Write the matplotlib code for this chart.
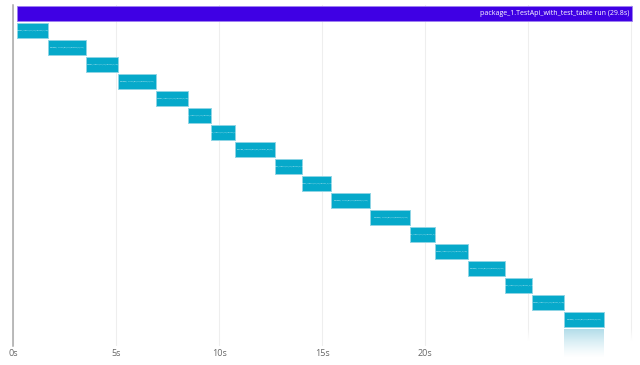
import numpy as np
import matplotlib
matplotlib.use("Agg")
import matplotlib.pyplot as plt

# ---- data ----
run_label = "package_1.TestApi_with_test_table run (29.8s)"
run_start = 0.19
run_end = 30.05

test_starts = [0.19, 1.67, 3.53, 5.07, 6.94, 8.48, 9.62, 10.74, 12.71,
               14.01, 15.41, 17.33, 19.27, 20.49, 22.05, 23.88, 25.19, 26.75]
test_durations = [1.48, 1.86, 1.54, 1.87, 1.54, 1.14, 1.12, 1.97, 1.30,
                  1.40, 1.92, 1.94, 1.22, 1.56, 1.83, 1.31, 1.56, 1.91]
test_names = ["package_1.TestApi_with_test_table.test_%02d" % (i + 1) for i in range(len(test_starts))]
test_labels = ["%s (%.1fs)" % (n, d) for n, d in zip(test_names, test_durations)]

tick_values = [0, 5, 10, 15, 20, 25, 30]
tick_labels = ["0s", "5s", "10s", "15s", "20s", "", ""]

# ---- figure ----
W, H = 640, 365
fig = plt.figure(figsize=(W / 100, H / 100), dpi=100)
px_per_s = 20.6
x0_px = 13.3
xmax = 30.2
ax_w = xmax * px_per_s
top_px, bot_px = 5, 346
ax = fig.add_axes([x0_px / W, (H - bot_px) / H, ax_w / W, (bot_px - top_px) / H])

row_px = 17.0
row0_center = 13.3
ymin = (top_px - row0_center) / row_px
ymax = (bot_px - row0_center) / row_px
ax.set_xlim(0, xmax)
ax.set_ylim(ymax, ymin)

for s in ["top", "right", "bottom"]:
    ax.spines[s].set_visible(False)
ax.spines["left"].set_color("#a8a8a8")
ax.spines["left"].set_linewidth(1.1)
ax.set_yticks([])
ax.set_xticks(tick_values)
ax.set_xticklabels(tick_labels)
ax.tick_params(axis="x", length=0, pad=2.0, labelsize=6.5, labelcolor="#666666")
for lab in ax.get_xticklabels():
    lab.set_fontfamily("Open Sans")
ax.grid(axis="x", color="#eeeeee", linewidth=0.8, zorder=0)
ax.set_axisbelow(True)

# run bar
ax.barh([0], [run_end - run_start], left=[run_start], height=0.9,
        color="#3f00e4", edgecolor="#9f80f0", linewidth=0.6, zorder=2)
ax.text(run_end - 0.12, 0, run_label, ha="right", va="center", color="white",
        fontsize=5.0, fontfamily="Open Sans", zorder=3)

# test bars
rows = np.arange(1, len(test_starts) + 1)
ax.barh(rows, test_durations, left=test_starts, height=0.88,
        color="#06a9ca", edgecolor="#8fd5e5", linewidth=0.7, zorder=2)

renderer = fig.canvas.get_renderer()
for r, s, d, lab in zip(rows, test_starts, test_durations, test_labels):
    t = ax.text(s + d / 2, r, lab, ha="center", va="center", color="white",
                fontsize=3, fontfamily="Open Sans", zorder=3)
    tw = t.get_window_extent(renderer).width
    target = d * px_per_s * 0.86
    t.set_fontsize(3 * target / tw)

# white fade at the bottom right (transparent at top, opaque lower down)
n = 64
fade_ax = fig.add_axes([477 / W, 0, (W - 477) / W, 37 / H])
fade_ax.set_axis_off()
img = np.ones((n, 2, 4))
img[..., 3] = np.clip(np.linspace(0, 3, n), 0, 1)[:, None]
fade_ax.imshow(img, aspect="auto", extent=[0, 1, 0, 1], interpolation="bilinear")
fade_ax.set_xlim(0, 1)
fade_ax.set_ylim(0, 1)

# cyan fade under the last bar (strong at top, white at bottom)
last_s = test_starts[-1]
last_d = test_durations[-1]
gx0 = (x0_px + last_s * px_per_s) / W
gw = last_d * px_per_s / W
cy_ax = fig.add_axes([gx0, (H - 358) / H, gw, 29 / H])
cy_ax.set_axis_off()
g = np.zeros((n, 2, 4))
g[..., 0] = 0.50
g[..., 1] = 0.78
g[..., 2] = 0.86
g[..., 3] = np.linspace(0.7, 0.0, n)[:, None] ** 1.3
cy_ax.imshow(g, aspect="auto", extent=[0, 1, 0, 1], interpolation="bilinear")
cy_ax.set_xlim(0, 1)
cy_ax.set_ylim(0, 1)

fig.savefig("out.png", dpi=100)
